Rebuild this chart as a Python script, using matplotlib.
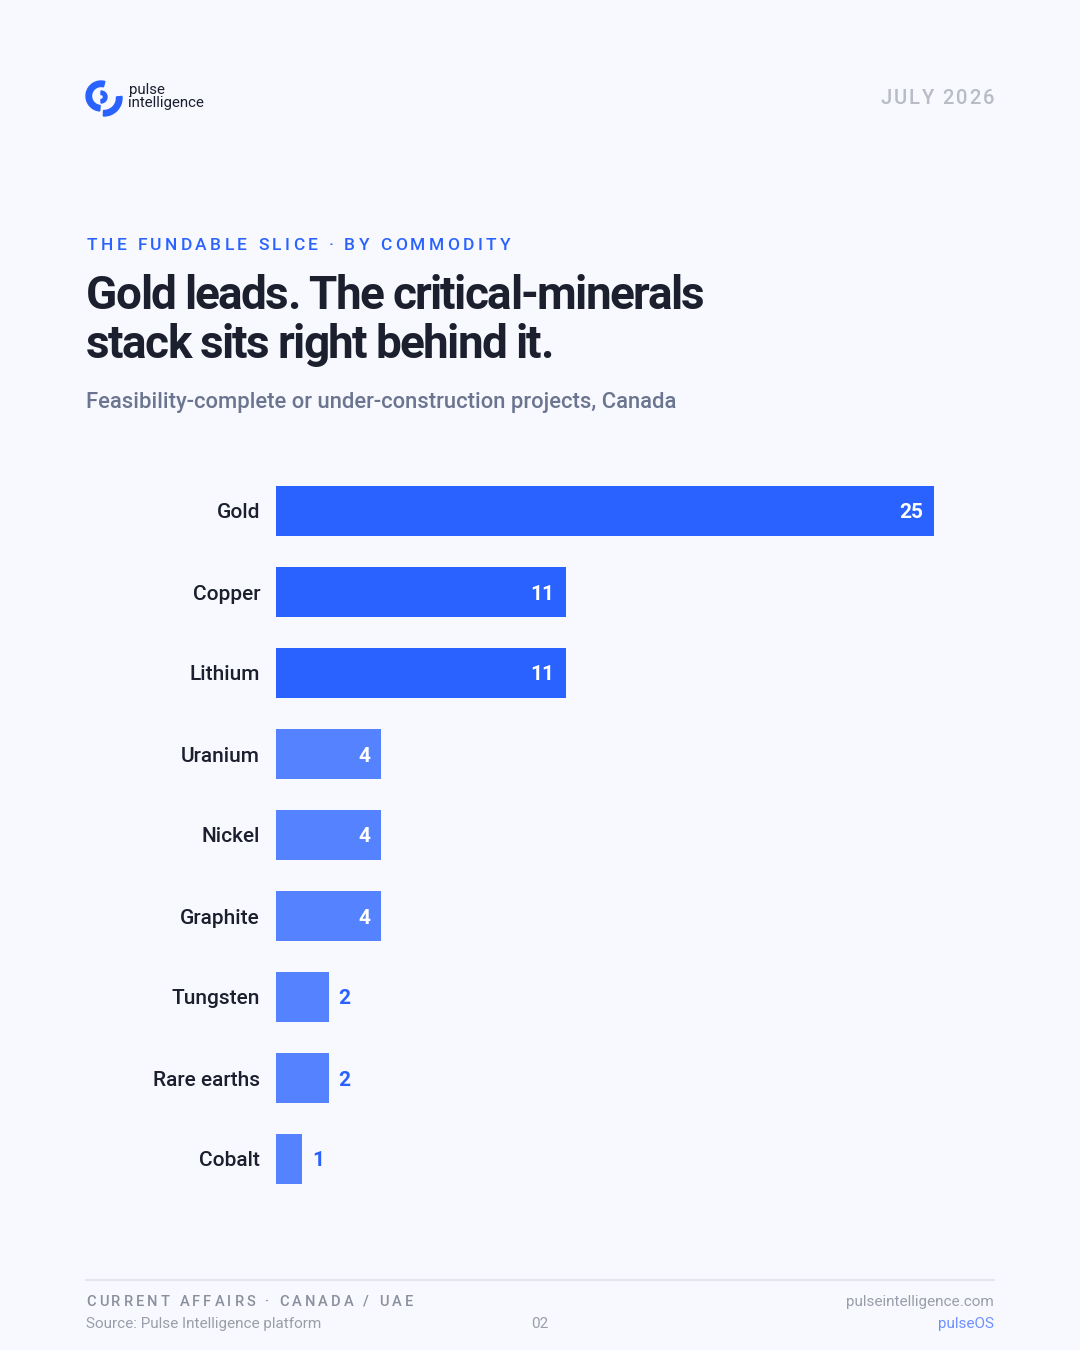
import matplotlib as mpl
mpl.use("Agg")
import matplotlib.pyplot as plt
from matplotlib.patches import Wedge
from matplotlib.lines import Line2D
from matplotlib.transforms import IdentityTransform

W, H = 1080, 1350
BG = "#F7F9FE"
INK = "#1B1F2E"
BLUE = "#2962FF"
LIGHT_BLUE = "#5582FF"
GREY = "#8A8F9C"

categories = ["Gold", "Copper", "Lithium", "Uranium", "Nickel",
              "Graphite", "Tungsten", "Rare earths", "Cobalt"]
projects = [25, 11, 11, 4, 4, 4, 2, 2, 1]
highlight = [True, True, True, False, False, False, False, False, False]

plt.rcParams["font.family"] = ["Roboto", "DejaVu Sans"]

fig = plt.figure(figsize=(W / 100, H / 100), dpi=100, facecolor=BG)
renderer = fig.canvas.get_renderer()


def fx(x):
    return x / W


def fy(y):
    return 1 - y / H


def text_width(s, **kw):
    t = fig.text(0, 0, s, **kw)
    w = t.get_window_extent(renderer).width
    t.remove()
    return w


def tracked(x, y, s, track, ha="left", **kw):
    # draw string char by char with letter spacing (pixels)
    bar_w = text_width("|", **kw)
    offsets = [text_width(s[:i] + "|", **kw) - bar_w if i else 0.0 for i in range(len(s))]
    total = text_width(s, **kw) + track * (len(s) - 1)
    if ha == "right":
        x = x - total
    for i, c in enumerate(s):
        fig.text(fx(x + offsets[i] + i * track), fy(y), c, ha="left", **kw)


def logo_arc(cx, cy, r, t1, t2, w):
    fig.patches.append(Wedge((cx, H - cy), r, t1, t2, width=w, color=BLUE,
                             transform=IdentityTransform()))


# logo
logo_arc(101, 96, 15, 75, 265, 5.5)
logo_arc(104, 98, 18, -92, 5, 5.5)
logo_arc(101, 97, 6, -90, 90, 3.5)
fig.text(fx(129), fy(94), "pulse", fontsize=10.8, color=INK, va="baseline")
fig.text(fx(128), fy(107), "intelligence", fontsize=10.8, color=INK, va="baseline")

tracked(994, 104, "JULY 2026", 1.9, ha="right", fontsize=14.5, color="#B9BCC7",
        fontweight="medium", va="baseline")

# header
tracked(87, 250, "THE FUNDABLE SLICE · BY COMMODITY", 3.35, fontsize=12.5,
        color=BLUE, fontweight="medium", va="baseline")
tracked(86, 309, "Gold leads. The critical-minerals", -1.65, fontsize=33,
        color=INK, fontweight="semibold", va="baseline")
tracked(86, 358, "stack sits right behind it.", -1.65, fontsize=33,
        color=INK, fontweight="semibold", va="baseline")
fig.text(fx(86), fy(408), "Feasibility-complete or under-construction projects, Canada",
         fontsize=15.8, color="#6B7590", fontweight="medium", va="baseline")

# bars
ax = fig.add_axes([fx(276), fy(1199.5), (934 - 276) / W, (1199.5 - 470.5) / H])
ax.set_facecolor("none")
colors = [BLUE if h else LIGHT_BLUE for h in highlight]
ypos = list(range(len(categories)))
ax.barh(ypos, projects, height=0.617, color=colors)
ax.set_xlim(0, max(projects))
ax.set_ylim(len(categories) - 0.5, -0.5)
for s in ax.spines.values():
    s.set_visible(False)
ax.set_xticks([])
ax.set_yticks(ypos)
ax.set_yticklabels(categories, fontsize=15, color=INK, fontweight="medium")
ax.tick_params(axis="y", length=0, pad=11.5)

for yv, v in zip(ypos, projects):
    if v >= 4:
        ax.annotate(str(v), (v, yv), xytext=(-11, 0), textcoords="offset pixels",
                    ha="right", va="center_baseline", fontsize=15, fontweight="bold",
                    color="white")
    else:
        ax.annotate(str(v), (v, yv), xytext=(10, 0), textcoords="offset pixels",
                    ha="left", va="center_baseline", fontsize=15, fontweight="bold",
                    color=BLUE)

# footer
fig.lines.append(Line2D([fx(86), fx(994)], [fy(1280), fy(1280)], color="#E3E6EE",
                        lw=1.5, transform=fig.transFigure))
tracked(86, 1306, "CURRENT AFFAIRS · CANADA / UAE", 3.1, fontsize=10.5,
        color=GREY, fontweight="medium", va="baseline")
fig.text(fx(86), fy(1328), "Source: Pulse Intelligence platform", fontsize=11,
         color="#9A9EAA", va="baseline")
fig.text(fx(540), fy(1328), "02", fontsize=11, color="#9A9EAA", va="baseline", ha="center")
fig.text(fx(994), fy(1306), "pulseintelligence.com", fontsize=11, color="#9A9EAA",
         va="baseline", ha="right")
fig.text(fx(994), fy(1328), "pulseOS", fontsize=11, color="#6E8FFF",
         va="baseline", ha="right")

fig.savefig("out.png", dpi=100, facecolor=BG)
